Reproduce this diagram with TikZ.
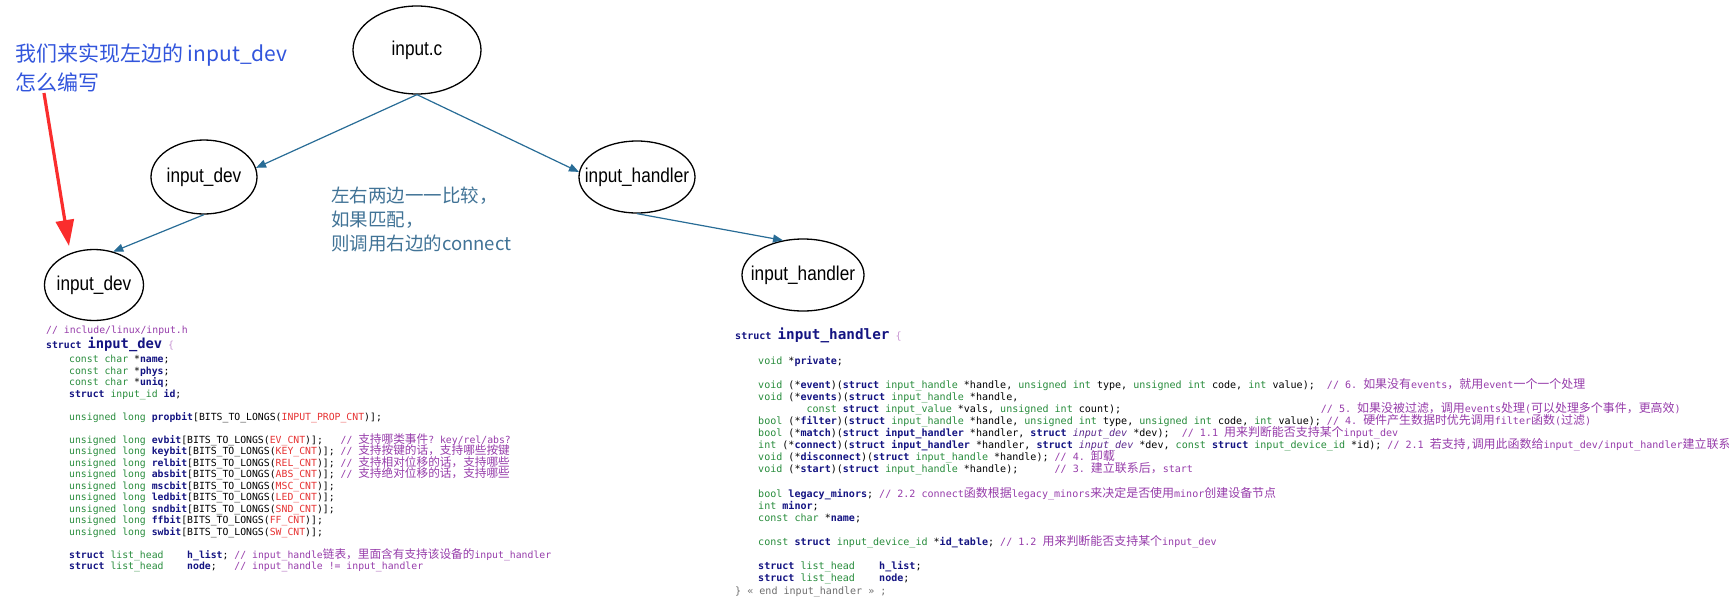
\documentclass[tikz,border=0pt]{standalone}
\usepackage{fontspec}
\setmainfont{Liberation Sans}
\setmonofont{DejaVu Sans Mono}
\newfontfamily\ovalfont[FakeStretch=0.86]{Liberation Sans}
\newfontfamily\cjk{Noto Sans CJK SC}
\newfontfamily\cjkcode[Scale=1.19]{Noto Sans CJK SC}
\usetikzlibrary{shapes.geometric,arrows.meta}

\definecolor{linkblue}{RGB}{40,108,150}
\definecolor{notered}{RGB}{250,45,45}
\definecolor{noteblue}{RGB}{50,85,220}
\definecolor{midblue}{RGB}{65,115,150}
\definecolor{kwgreen}{RGB}{40,140,60}
\definecolor{fldnavy}{RGB}{20,20,130}
\definecolor{cmtpurple}{RGB}{150,60,170}
\definecolor{macred}{RGB}{230,50,50}
\definecolor{bracepink}{RGB}{200,150,210}
\definecolor{devpurple}{RGB}{90,40,140}
\definecolor{endgray}{RGB}{110,110,110}

\newcommand{\kw}[1]{\textcolor{kwgreen}{#1}}
\newcommand{\fld}[1]{\textcolor{fldnavy}{\bfseries #1}}
\newcommand{\cmt}[1]{\textcolor{cmtpurple}{#1}}
\newcommand{\mac}[1]{\textcolor{macred}{#1}}
\newcommand{\zh}[1]{{\cjkcode #1}}
\newcommand{\devit}[1]{\textcolor{devpurple}{\itshape #1}}
\newcommand{\gap}[1]{\hspace*{#1\fontcharwd\font`\x}}

\tikzset{
  oval/.style={ellipse, draw, line width=1.3pt, inner sep=0pt, inner xsep=-14pt,
    font=\ovalfont\fontsize{20}{22}\selectfont},
  link/.style={linkblue, line width=1.2pt, -{Triangle[length=10pt,width=8pt]}},
  notearrow/.style={notered, line width=3.2pt, -{Triangle[length=26pt,width=18pt]}},
  devcode/.style={anchor=base west, inner sep=0pt,
    font=\ttfamily\fontsize{9.8}{11.5}\selectfont\frenchspacing},
  hdlcode/.style={anchor=base west, inner sep=0pt,
    font=\ttfamily\fontsize{10.05}{12}\selectfont\frenchspacing},
}

\begin{document}
\begin{tikzpicture}[x=1pt,y=-1pt]
\useasboundingbox (0,0) rectangle (1729,611);

% tree
\node[oval, minimum width=128, minimum height=88] (inputc) at (417,50) {input.c};
\node[oval, minimum width=106, minimum height=74] (devmid) at (204,177) {input\_dev};
\node[oval, minimum width=116, minimum height=72] (hdlmid) at (637,177) {input\_handler};
\node[oval, minimum width=99, minimum height=71] (devbot) at (94,285) {input\_dev};
\node[oval, minimum width=122, minimum height=72] (hdlbot) at (803,275) {input\_handler};

\draw[link] (inputc.south) -- (devmid.10);
\draw[link] (inputc.south) -- (hdlmid.175);
\draw[link] (devmid.south) -- (devbot.60);
\draw[link] (hdlmid.south) -- (hdlbot.120);

% notes
\node[anchor=north west, inner sep=0pt, align=left, text=noteblue,
  font=\cjk\fontsize{21}{29}\selectfont] (note) at (15,44)
  {我们来实现左边的 input\_dev\\怎么编写};
\coordinate (redtail) at (44,93);
\coordinate (redtip) at (69,246);
\draw[notearrow] (redtail) -- (redtip);

\node[anchor=north west, inner sep=0pt, align=left, text=midblue,
  font=\cjk\fontsize{18.5}{24}\selectfont] (cmp) at (331,187)
  {左右两边一一比较，\\如果匹配，\\则调用右边的connect};

% struct input_dev
\node[devcode] (devpath) at (46,333.5) {\cmt{// include/linux/input.h}};
\node[devcode] (devhead) at (46,348)
  {\fld{struct} {\fontsize{13.8}{14}\selectfont\fld{input\_dev}} \textcolor{bracepink}{\{}};
\foreach \k/\txt in {
  0/{\kw{const char} *\fld{name};},
  1/{\kw{const char} *\fld{phys};},
  2/{\kw{const char} *\fld{uniq};},
  3/{\fld{struct} \kw{input\_id} \fld{id};},
  5/{\kw{unsigned long} \fld{propbit}[BITS\_TO\_LONGS(\mac{INPUT\_PROP\_CNT})];},
  7/{\kw{unsigned long} \fld{evbit}[BITS\_TO\_LONGS(\mac{EV\_CNT})];\gap{3}\cmt{// \zh{支持哪类事件}? key/rel/abs?}},
  8/{\kw{unsigned long} \fld{keybit}[BITS\_TO\_LONGS(\mac{KEY\_CNT})]; \cmt{// \zh{支持按键的话，支持哪些按键}}},
  9/{\kw{unsigned long} \fld{relbit}[BITS\_TO\_LONGS(\mac{REL\_CNT})]; \cmt{// \zh{支持相对位移的话，支持哪些}}},
  10/{\kw{unsigned long} \fld{absbit}[BITS\_TO\_LONGS(\mac{ABS\_CNT})]; \cmt{// \zh{支持绝对位移的话，支持哪些}}},
  11/{\kw{unsigned long} \fld{mscbit}[BITS\_TO\_LONGS(\mac{MSC\_CNT})];},
  12/{\kw{unsigned long} \fld{ledbit}[BITS\_TO\_LONGS(\mac{LED\_CNT})];},
  13/{\kw{unsigned long} \fld{sndbit}[BITS\_TO\_LONGS(\mac{SND\_CNT})];},
  14/{\kw{unsigned long} \fld{ffbit}[BITS\_TO\_LONGS(\mac{FF\_CNT})];},
  15/{\kw{unsigned long} \fld{swbit}[BITS\_TO\_LONGS(\mac{SW\_CNT})];},
  17/{\fld{struct} \kw{list\_head}\gap{4}\fld{h\_list}; \cmt{// input\_handle\zh{链表，里面含有支持该设备的}input\_handler}},
  18/{\fld{struct} \kw{list\_head}\gap{4}\fld{node};\gap{3}\cmt{// input\_handle != input\_handler}}}
  \node[devcode] (dev\k) at (69,362.5+11.5*\k) {\txt};

% struct input_handler
\node[hdlcode] (hdlhead) at (735,339)
  {\fld{struct} {\fontsize{14.3}{15}\selectfont\fld{input\_handler}} \textcolor{bracepink}{\{}};
\foreach \k/\txt in {
  0/{\kw{void} *\fld{private};},
  2/{\kw{void} (*\fld{event})(\fld{struct} \kw{input\_handle} *handle, \kw{unsigned int} type, \kw{unsigned int} code, \kw{int} value);\gap{2}\cmt{// 6. \zh{如果没有}events\zh{，就用}event\zh{一个一个处理}}},
  3/{\kw{void} (*\fld{events})(\fld{struct} \kw{input\_handle} *handle,},
  4/{\gap{8}\kw{const} \fld{struct} \kw{input\_value} *vals, \kw{unsigned int} count);\gap{33}\cmt{// 5. \zh{如果没被过滤，调用}events\zh{处理}(\zh{可以处理多个事件，更高效})}},
  5/{\kw{bool} (*\fld{filter})(\fld{struct} \kw{input\_handle} *handle, \kw{unsigned int} type, \kw{unsigned int} code, \kw{int} value); \cmt{// 4. \zh{硬件产生数据时优先调用}filter\zh{函数}(\zh{过滤})}},
  6/{\kw{bool} (*\fld{match})(\fld{struct} \fld{input\_handler} *handler, \fld{struct} \devit{input\_dev} *dev);\gap{2}\cmt{// 1.1 \zh{用来判断能否支持某个}input\_dev}},
  7/{\kw{int} (*\fld{connect})(\fld{struct} \fld{input\_handler} *handler, \fld{struct} \devit{input\_dev} *dev, \kw{const} \fld{struct} \kw{input\_device\_id} *id); \cmt{// 2.1 \zh{若支持},\zh{调用此函数给}input\_dev/input\_handler\zh{建立联系}}},
  8/{\kw{void} (*\fld{disconnect})(\fld{struct} \kw{input\_handle} *handle); \cmt{// 4. \zh{卸载}}},
  9/{\kw{void} (*\fld{start})(\fld{struct} \kw{input\_handle} *handle);\gap{6}\cmt{// 3. \zh{建立联系后，}start}},
  11/{\kw{bool} \fld{legacy\_minors}; \cmt{// 2.2 connect\zh{函数根据}legacy\_minors\zh{来决定是否使用}minor\zh{创建设备节点}}},
  12/{\kw{int} \fld{minor};},
  13/{\kw{const char} *\fld{name};},
  15/{\kw{const} \fld{struct} \kw{input\_device\_id} *\fld{id\_table}; \cmt{// 1.2 \zh{用来判断能否支持某个}input\_dev}},
  17/{\fld{struct} \kw{list\_head}\gap{4}\fld{h\_list};},
  18/{\fld{struct} \kw{list\_head}\gap{4}\fld{node};}}
  \node[hdlcode] (hdl\k) at (758,364+12.1*\k) {\txt};
\node[hdlcode] (hdlend) at (735,594) {\textcolor{endgray}{\} « end input\_handler » ;}};
\end{tikzpicture}
\end{document}
